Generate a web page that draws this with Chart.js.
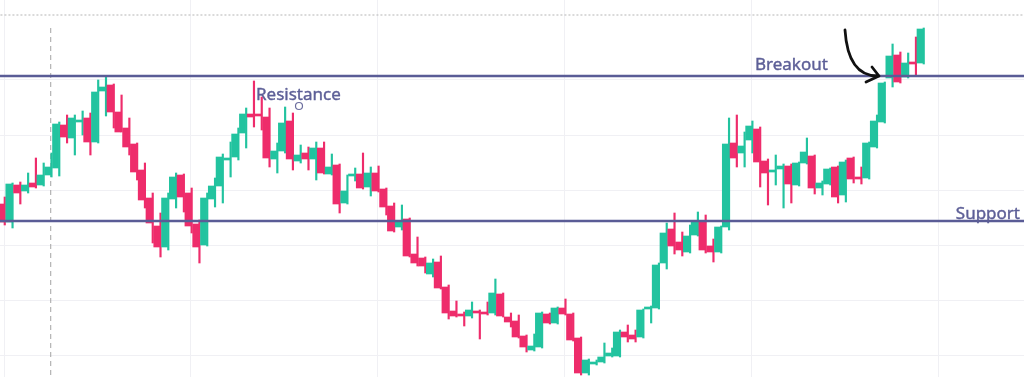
<!DOCTYPE html>
<html>
<head>
<meta charset="utf-8">
<script src="https://cdn.jsdelivr.net/npm/chart.js@4"></script>
<style>
    html, body { margin: 0; padding: 0; background: #ffffff; }
    #wrap { width: 1024px; height: 390px; position: relative; }
</style>
</head>
<body>
<div id="wrap"><canvas id="priceChart"></canvas></div>
<script>
// Candle values (price units)
const opens = [186, 168, 205, 199, 207, 205, 215, 222, 265, 252, 268, 272, 248, 299, 305, 278, 262, 246, 220, 192,
    164, 143, 191, 215, 197, 166, 145, 191, 204, 230, 233, 257, 276, 276, 273, 231, 239, 269, 229, 237,
    231, 242, 216, 225, 187, 214, 216, 203, 217, 201, 184, 163, 171, 136, 132, 116, 128, 103, 79, 76,
    74, 79, 78, 77, 96, 73, 69, 54, 40, 43, 76, 67, 82, 76, 52, 17, 26, 28, 34, 34,
    58, 55, 53, 81, 82, 127, 161, 148, 138, 155, 168, 144, 138, 163, 247, 237, 250, 261, 229, 218,
    221, 224, 205, 227, 234, 202, 206, 223, 195, 232, 213, 212, 243, 268, 312, 335, 313, 328, 327];
const highs = [193, 207, 208, 217, 232, 227, 237, 268, 275, 275, 279, 277, 310, 314, 306, 295, 272, 247, 227, 197,
    177, 197, 217, 216, 202, 170, 197, 212, 236, 248, 262, 282, 309, 293, 282, 247, 283, 277, 245, 243,
    248, 248, 236, 226, 215, 222, 237, 223, 224, 202, 187, 185, 172, 153, 133, 131, 134, 105, 89, 78,
    88, 80, 88, 111, 97, 77, 75, 55, 56, 78, 77, 83, 91, 77, 53, 31, 30, 47, 42, 60,
    65, 60, 81, 84, 127, 167, 177, 158, 165, 178, 175, 151, 164, 272, 275, 258, 269, 263, 231, 235,
    226, 226, 228, 252, 235, 209, 222, 224, 230, 233, 223, 248, 275, 308, 346, 338, 337, 353, 362];
const lows = [165, 162, 186, 197, 202, 204, 213, 214, 247, 235, 255, 235, 247, 274, 262, 258, 235, 210, 182, 147,
    133, 140, 182, 178, 157, 127, 144, 183, 187, 213, 230, 242, 263, 260, 223, 217, 237, 220, 227, 220,
    210, 216, 215, 177, 186, 209, 201, 194, 198, 175, 158, 160, 133, 124, 117, 113, 101, 71, 73, 64,
    72, 51, 75, 75, 73, 63, 52, 38, 39, 42, 66, 66, 75, 49, 15, 15, 25, 27, 33, 33,
    48, 48, 52, 67, 81, 121, 136, 134, 137, 154, 137, 128, 137, 160, 223, 223, 237, 203, 185, 205,
    182, 187, 204, 226, 196, 195, 205, 187, 188, 207, 206, 211, 242, 267, 303, 307, 312, 315, 326];
const closes = [168, 206, 197, 205, 203, 215, 223, 266, 253, 272, 270, 248, 298, 303, 278, 258, 243, 218, 190, 167,
    143, 192, 213, 193, 164, 143, 192, 204, 233, 232, 256, 276, 273, 274, 232, 239, 267, 231, 235, 231,
    242, 217, 223, 186, 199, 216, 202, 217, 199, 183, 159, 168, 134, 127, 124, 127, 102, 77, 74, 74,
    80, 77, 76, 97, 74, 68, 53, 43, 44, 77, 67, 82, 76, 50, 17, 30, 28, 33, 37, 58,
    53, 51, 80, 83, 125, 157, 144, 140, 154, 168, 140, 138, 163, 246, 232, 244, 264, 228, 217, 220,
    224, 206, 227, 238, 202, 207, 221, 193, 228, 211, 211, 247, 269, 307, 334, 308, 327, 326, 361];

// Horizontal levels and guide lines
const resistance = 314;
const support = 169;
const topGuide = 375;
const sessionLine = 6;

// Grid tick positions
const xTicks = [0, 24, 48, 72, 96, 120];
const yTicks = [35, 90, 145, 200, 255, 310];

const green = '#22c39f';
const red = '#ee2c6b';
const levelColor = '#5a5c96';
const textColor = '#5d5f97';

const idx = opens.map((_, i) => i);
const candleColors = idx.map(i => closes[i] >= opens[i] ? green : red);

// Text, marker and hand-drawn arrow on top of the candles
const notes = {
    id: 'notes',
    afterDatasetsDraw(chart) {
        const { ctx, scales: { x, y } } = chart;
        const rY = y.getPixelForValue(resistance);
        const sY = y.getPixelForValue(support);
        ctx.save();
        ctx.font = '17px "Noto Sans"';
        ctx.fillStyle = textColor;
        ctx.strokeStyle = textColor;
        ctx.lineWidth = 0.4;
        ctx.textBaseline = 'alphabetic';
        ctx.textAlign = 'left';
        ctx.fillText('Resistance', 256, rY + 24);
        ctx.strokeText('Resistance', 256, rY + 24);
        ctx.fillText('Breakout', 755, rY - 6);
        ctx.strokeText('Breakout', 755, rY - 6);
        ctx.textAlign = 'right';
        ctx.fillText('Support', 1020, sY - 2);
        ctx.strokeText('Support', 1020, sY - 2);

        // little cursor circle
        ctx.strokeStyle = '#6b6d9e';
        ctx.lineWidth = 1.2;
        ctx.beginPath();
        ctx.arc(299, rY + 30, 3.5, 0, Math.PI * 2);
        ctx.stroke();

        // arrow
        ctx.strokeStyle = '#111111';
        ctx.lineWidth = 2.8;
        ctx.lineCap = 'round';
        ctx.lineJoin = 'round';
        ctx.beginPath();
        ctx.moveTo(845, 30);
        ctx.quadraticCurveTo(848, rY + 1, 879, rY);
        ctx.moveTo(872, rY - 9);
        ctx.lineTo(879, rY);
        ctx.lineTo(866, rY + 6);
        ctx.stroke();
        ctx.restore();
    }
};

const ctx = document.getElementById('priceChart').getContext('2d');
const chart = new Chart(ctx, {
    type: 'bar',
    data: {
        datasets: [
            {
                type: 'line',
                data: [{ x: -2, y: resistance }, { x: 133, y: resistance }],
                borderColor: levelColor,
                borderWidth: 2.5,
                pointRadius: 0,
                order: 0
            },
            {
                type: 'line',
                data: [{ x: -2, y: support }, { x: 133, y: support }],
                borderColor: levelColor,
                borderWidth: 2.5,
                pointRadius: 0,
                order: 0
            },
            {
                type: 'line',
                data: [{ x: -2, y: topGuide }, { x: 133, y: topGuide }],
                borderColor: '#b5b5b5',
                borderWidth: 1,
                borderDash: [2, 2],
                pointRadius: 0,
                order: 3
            },
            {
                type: 'line',
                data: [{ x: sessionLine, y: 362 }, { x: sessionLine, y: 13 }],
                borderColor: '#a3a3a3',
                borderWidth: 1,
                borderDash: [5, 4],
                pointRadius: 0,
                order: 3
            },
            {
                // bodies
                data: idx.map(i => ({ x: i, y: [opens[i], closes[i]] })),
                backgroundColor: candleColors,
                barThickness: 6,
                minBarLength: 2,
                order: 1
            },
            {
                // wicks
                data: idx.map(i => ({ x: i, y: [lows[i], highs[i]] })),
                backgroundColor: candleColors,
                barThickness: 1.5,
                order: 2
            }
        ]
    },
    options: {
        responsive: true,
        maintainAspectRatio: false,
        animation: false,
        layout: { padding: { left: 0, right: 0, top: 0, bottom: 13 } },
        plugins: {
            legend: { display: false },
            tooltip: { enabled: false }
        },
        scales: {
            x: {
                type: 'linear',
                min: -0.514,
                max: 130.97,
                offset: false,
                afterBuildTicks: scale => { scale.ticks = xTicks.map(v => ({ value: v })); },
                ticks: { display: false },
                grid: { color: '#f0f0f4', drawTicks: false, offset: false },
                border: { display: false }
            },
            y: {
                min: 13,
                max: 390,
                afterBuildTicks: scale => { scale.ticks = yTicks.map(v => ({ value: v })); },
                ticks: { display: false },
                grid: { color: '#f0f0f4', drawTicks: false },
                border: { display: false }
            }
        }
    },
    plugins: [notes]
});
</script>
</body>
</html>
